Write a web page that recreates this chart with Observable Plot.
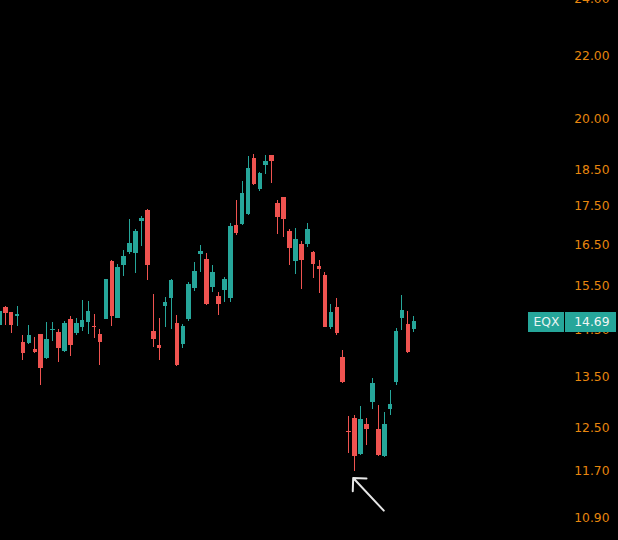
<!DOCTYPE html>
<html><head><meta charset="utf-8">
<script src="https://cdn.jsdelivr.net/npm/d3@7"></script>
<script src="https://cdn.jsdelivr.net/npm/@observablehq/plot@0.6"></script>
<style>html,body{margin:0;padding:0;background:#000;overflow:hidden}</style>
</head><body><div id="chart"></div>
<script>
const ticker = "EQX";
const open = [14.60,15.01,14.89,14.80,14.24,14.20,14.08,14.40,13.89,14.49,
  14.45,14.04,14.73,14.43,14.56,14.68,14.58,14.41,14.74,16.10,
  14.77,15.99,16.31,16.30,17.10,17.40,14.47,14.16,15.03,15.22,
  14.65,14.18,14.74,15.44,16.28,16.14,15.47,15.27,15.39,15.21,
  17.00,17.02,17.30,18.82,17.97,18.62,18.91,17.58,17.74,16.85,
  16.10,16.53,16.51,16.32,15.97,15.76,14.55,15.01,13.91,12.42,
  12.67,12.00,12.57,12.99,12.46,11.96,12.86,13.40,14.77,14.62,14.51];
const high = [15.03,15.03,14.90,15.03,14.38,14.61,14.33,14.41,14.67,14.67,
  14.51,14.69,14.81,14.77,15.18,15.14,14.85,14.51,15.67,16.12,
  16.03,16.36,17.17,16.89,17.23,17.41,15.31,14.75,15.24,15.65,
  14.83,14.62,15.60,16.06,16.49,16.29,16.01,15.36,15.72,17.06,
  17.67,18.19,18.87,18.95,18.44,18.92,18.92,17.65,17.75,16.91,
  16.93,16.60,17.05,16.34,16.13,15.84,15.08,15.21,14.06,12.72,
  12.73,12.91,12.67,13.48,12.93,12.79,13.23,14.53,15.28,14.92,14.80];
const low = [14.54,14.60,14.42,14.58,13.85,14.18,14.00,13.33,13.87,14.26,
  13.81,14.02,13.94,14.38,14.48,14.40,14.32,13.74,14.73,14.59,
  14.76,15.73,16.28,15.81,16.46,15.64,14.13,13.85,14.55,14.51,
  13.73,14.11,14.70,15.38,15.84,15.06,15.36,14.83,15.12,15.13,
  16.74,16.99,17.25,18.06,17.91,18.37,18.12,16.77,16.70,15.99,
  15.78,15.43,16.45,15.69,15.34,14.55,14.52,14.38,13.37,12.02,
  11.70,11.98,12.16,12.85,11.97,11.95,12.73,13.33,14.49,13.99,14.45];
const close = [14.92,14.88,14.60,14.86,13.99,14.38,14.02,13.68,14.29,14.51,
  14.11,14.65,14.16,14.65,14.71,14.92,14.55,14.24,15.65,14.81,
  15.96,16.21,16.55,16.85,17.19,15.99,14.30,14.11,15.12,15.64,
  13.74,14.58,15.54,15.86,16.34,15.07,15.82,15.07,15.66,16.98,
  16.80,17.86,18.55,18.09,18.39,18.75,18.73,17.21,17.15,16.42,
  16.64,16.11,16.91,16.03,15.90,14.56,14.90,14.42,13.40,12.41,
  11.97,12.65,12.46,13.36,11.99,12.57,12.95,14.48,14.95,14.02,14.69];
const yTicks = [10.9, 11.7, 12.5, 13.5, 14.5, 15.5, 16.5, 17.5, 18.5, 20, 22, 24];
// annotation arrow: [bar index, price]
const arrowTail = [64.93, 11.02];
const arrowTip = [59.76, 11.58];

const W = 618, H = 540;
const xDomain = [0.206, 104.56];
const yDomain = [10.53, 23.94];
const pxToX = px => xDomain[0] + px / W * (xDomain[1] - xDomain[0]);
const UP = "#26a69a", DOWN = "#ef5350", AXIS = "#e8870e";
const FONT = "DejaVu Sans";
const candles = open.map((o, i) => ({i, open: o, high: high[i], low: low[i], close: close[i], dir: close[i] >= o ? "up" : "down"}));
const last = close[close.length - 1];

const chart = Plot.plot({
  width: W, height: H,
  marginTop: 0, marginBottom: 0, marginLeft: 0, marginRight: 0,
  style: {background: "#000"},
  x: {type: "linear", domain: xDomain, axis: null},
  y: {type: "log", domain: yDomain, axis: null},
  color: {domain: ["up", "down"], range: [UP, DOWN]},
  marks: [
    Plot.ruleX(candles, {x: "i", y1: "low", y2: "high", stroke: "dir", strokeWidth: 1, shapeRendering: "crispEdges"}),
    Plot.ruleX(candles, {x: "i", y1: "open", y2: "close", stroke: "dir", strokeWidth: 4.6, shapeRendering: "crispEdges"}),
    Plot.text(yTicks, {y: d => d, text: d => d.toFixed(2), frameAnchor: "right", textAnchor: "end", dx: -9,
      fill: AXIS, fontFamily: FONT, fontSize: 12.3}),
    Plot.ruleY([last], {y: d => d, x1: () => pxToX(528), x2: () => pxToX(563.7), stroke: UP, strokeWidth: 20, shapeRendering: "crispEdges"}),
    Plot.ruleY([last], {y: d => d, x1: () => pxToX(565), x2: () => pxToX(615.7), stroke: UP, strokeWidth: 20, shapeRendering: "crispEdges"}),
    Plot.text([last], {y: d => d, x: () => pxToX(546), text: () => ticker, fill: "#e8f4f2", fontFamily: FONT, fontSize: 12.3}),
    Plot.text([last], {y: d => d, text: d => d.toFixed(2), frameAnchor: "right", textAnchor: "end", dx: -9,
      fill: "#f2f6f5", fontFamily: FONT, fontSize: 12.3}),
    Plot.arrow([{x1: arrowTail[0], y1: arrowTail[1], x2: arrowTip[0], y2: arrowTip[1]}],
      {x1: "x1", y1: "y1", x2: "x2", y2: "y2", stroke: "#e6e6e6", strokeWidth: 2, headAngle: 90, headLength: 10})
  ]
});
document.getElementById("chart").appendChild(chart);
</script>
</body></html>
